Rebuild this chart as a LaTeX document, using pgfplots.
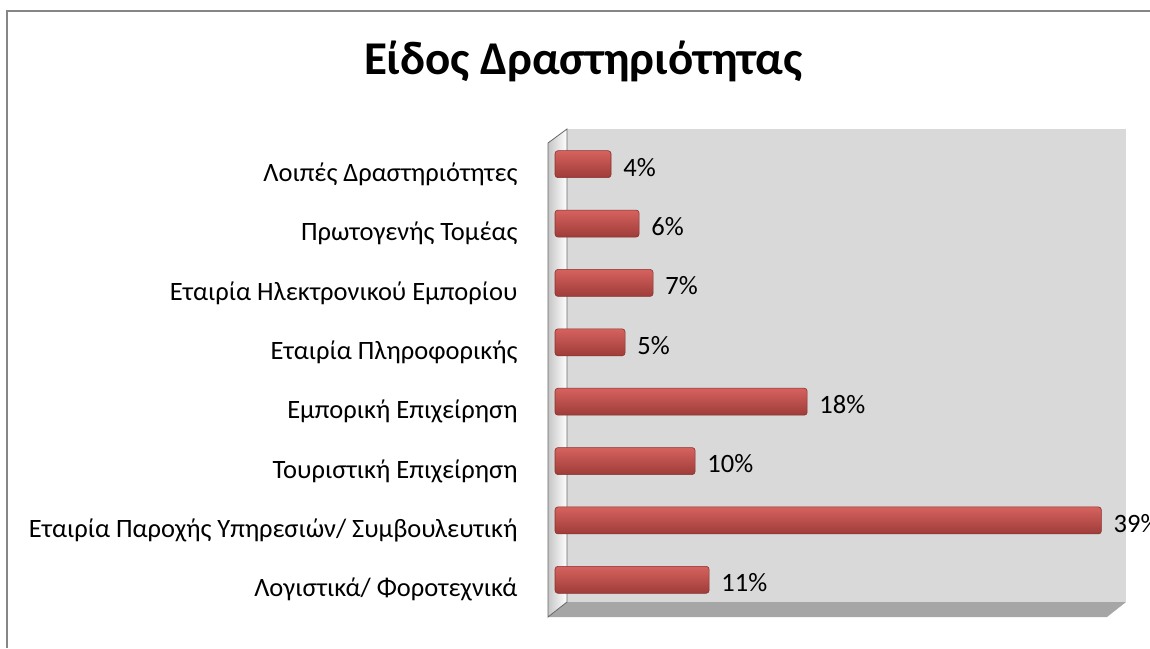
\documentclass[border=0pt]{standalone}
\usepackage{pgfplots}
\pgfplotsset{compat=1.18}
\usepackage{fontspec}
\setmainfont{Carlito}
\definecolor{framegray}{RGB}{134,134,134}
\definecolor{wallgray}{RGB}{217,217,217}
\definecolor{floorgray}{RGB}{166,166,166}
\definecolor{barmid}{RGB}{192,80,77}
\definecolor{bartop}{RGB}{214,98,94}
\definecolor{barbot}{RGB}{158,60,57}
\definecolor{baredge}{RGB}{135,48,45}
\tikzset{mybar/.style={draw=baredge, line width=0.6pt, rounded corners=3pt,
         top color=bartop, middle color=barmid, bottom color=barbot}}
\begin{document}
\begin{tikzpicture}[x=1pt,y=1pt]
\useasboundingbox (0,0) rectangle (1150,648);
% chart frame (only left and top edges visible)
\draw[framegray, line width=2pt] (7,0) -- (7,637) -- (1150,637);
% title
\node[font=\fontsize{47}{52}\selectfont\bfseries, anchor=base] at (583,573) {Είδος Δραστηριότητας};
% 3D walls
\fill[wallgray] (567,46) rectangle (1126,519);
\fill[floorgray] (548,31) -- (1107,31) -- (1126,46) -- (567,46) -- cycle;
\shade[left color=gray!45, right color=white] (548,31) -- (567,46) -- (567,519) -- (548,505) -- cycle;
\draw[gray!80!black, line width=0.8pt] (548,31) -- (567,46) -- (567,519) -- (548,505) -- cycle;
\begin{axis}[
    at={(555pt,38.5pt)}, anchor=origin,
    scale only axis,
    width=559pt, height=475pt,
    xbar, bar width=27pt, bar shift=0pt,
    xmin=0, xmax=39.9,
    ymin=0.5, ymax=8.5,
    axis line style={draw=none},
    tick style={draw=none},
    xtick=\empty,
    ytick={1,...,8},
    yticklabels={Λογιστικά/ Φοροτεχνικά,
                 Εταιρία Παροχής Υπηρεσιών/ Συμβουλευτική,
                 Τουριστική Επιχείρηση,
                 Εμπορική Επιχείρηση,
                 Εταιρία Πληροφορικής,
                 Εταιρία Ηλεκτρονικού Εμπορίου,
                 Πρωτογενής Τομέας,
                 Λοιπές Δραστηριότητες},
    yticklabel style={font=\fontsize{26.5}{30}\selectfont, anchor=east,
                      inner sep=0pt, xshift=-33pt, yshift=-10pt},
    point meta=x,
    /pgf/number format/assume math mode=true,
    nodes near coords={\pgfmathprintnumber{\pgfplotspointmeta}\%},
    nodes near coords style={font=\fontsize{26.5}{30}\selectfont, anchor=west,
                             text=black, inner sep=0pt, xshift=12pt, yshift=-3pt},
    clip=false,
]
\addplot[mybar] coordinates {(11,1)};
\addplot[mybar] coordinates {(39,2)};
\addplot[mybar] coordinates {(10,3)};
\addplot[mybar] coordinates {(18,4)};
\addplot[mybar] coordinates {(5,5)};
\addplot[mybar] coordinates {(7,6)};
\addplot[mybar] coordinates {(6,7)};
\addplot[mybar] coordinates {(4,8)};
\end{axis}
\end{tikzpicture}
\end{document}
